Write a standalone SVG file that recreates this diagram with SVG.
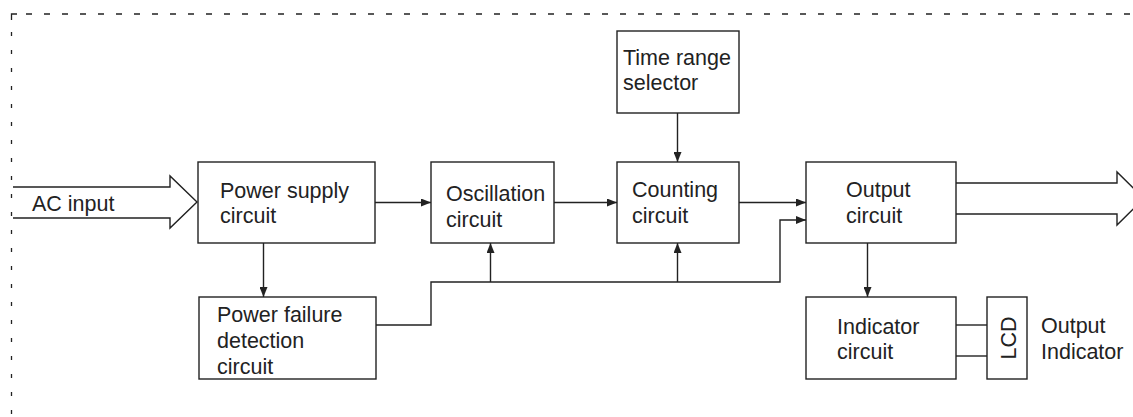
<svg xmlns="http://www.w3.org/2000/svg" width="1133" height="417" viewBox="0 0 1133 417">
<style>
  .box { fill: #ffffff; stroke: #222222; stroke-width: 1.4; }
  .wire { fill: none; stroke: #222222; stroke-width: 1.4; }
  .big { fill: #ffffff; stroke: #222222; stroke-width: 1.4; stroke-linejoin: miter; }
  .lbl { font-family: "Liberation Sans", Arial, sans-serif; font-size: 21.5px; fill: #222222; }
  .border { fill: none; stroke: #222222; stroke-width: 1.3; }
</style>
<defs>
  <marker id="ah" viewBox="0 0 10 8" refX="10" refY="4" markerWidth="10" markerHeight="8" markerUnits="userSpaceOnUse" orient="auto">
    <path d="M0,0 L10,4 L0,8 Z" fill="#222222"/>
  </marker>
</defs>
<rect width="1133" height="417" fill="#ffffff"/>
<g id="frame">
  <line class="border" x1="26" y1="14" x2="1133" y2="14" stroke-dasharray="6 12"/>
  <path class="border" d="M11.5,20 L11.5,14 L17,14"/>
  <line class="border" x1="11.5" y1="32" x2="11.5" y2="417" stroke-dasharray="4 14"/>
</g>
<g id="connectors">
  <path class="big" d="M13,187 L170,187 L170,176 L197,202 L170,228 L170,218 L13,218"/>
  <path class="big" d="M956,183 L1117,183 L1117,172 L1144,198.5 L1117,225 L1117,214 L956,214"/>
  <line class="wire" x1="263.5" y1="243" x2="263.5" y2="297" marker-end="url(#ah)"/>
  <line class="wire" x1="375" y1="202.5" x2="431" y2="202.5" marker-end="url(#ah)"/>
  <line class="wire" x1="554" y1="202.5" x2="617" y2="202.5" marker-end="url(#ah)"/>
  <line class="wire" x1="739" y1="202.5" x2="806" y2="202.5" marker-end="url(#ah)"/>
  <line class="wire" x1="677.5" y1="113" x2="677.5" y2="162" marker-end="url(#ah)"/>
  <path class="wire" d="M376,325 L431,325 L431,282 L780,282 L780,220 L806,220" marker-end="url(#ah)"/>
  <line class="wire" x1="490.5" y1="282" x2="490.5" y2="243" marker-end="url(#ah)"/>
  <line class="wire" x1="677.5" y1="282" x2="677.5" y2="243" marker-end="url(#ah)"/>
  <line class="wire" x1="867.5" y1="243" x2="867.5" y2="297" marker-end="url(#ah)"/>
  <line class="wire" x1="956" y1="325" x2="987" y2="325"/>
  <line class="wire" x1="956" y1="356" x2="987" y2="356"/>
</g>
<g id="ac-input">
  <text class="lbl" x="32" y="211">AC input</text>
</g>
<g id="power-supply">
  <rect class="box" x="198" y="162" width="177" height="81"/>
  <text class="lbl" x="220" y="198">Power supply</text>
  <text class="lbl" x="220" y="223">circuit</text>
</g>
<g id="power-failure">
  <rect class="box" x="199" y="297" width="177" height="82"/>
  <text class="lbl" x="217" y="322">Power failure</text>
  <text class="lbl" x="217" y="348">detection</text>
  <text class="lbl" x="217" y="374">circuit</text>
</g>
<g id="oscillation">
  <rect class="box" x="431" y="162" width="123" height="81"/>
  <text class="lbl" x="446" y="201">Oscillation</text>
  <text class="lbl" x="446" y="227">circuit</text>
</g>
<g id="time-range">
  <rect class="box" x="617" y="31" width="122" height="82"/>
  <text class="lbl" x="623" y="65">Time range</text>
  <text class="lbl" x="623" y="90">selector</text>
</g>
<g id="counting">
  <rect class="box" x="617" y="162" width="122" height="81"/>
  <text class="lbl" x="632" y="197">Counting</text>
  <text class="lbl" x="632" y="222.5">circuit</text>
</g>
<g id="output">
  <rect class="box" x="806" y="162" width="150" height="81"/>
  <text class="lbl" x="846" y="196.5">Output</text>
  <text class="lbl" x="846" y="222.5">circuit</text>
</g>
<g id="indicator">
  <rect class="box" x="806" y="297" width="150" height="82"/>
  <text class="lbl" x="837" y="334">Indicator</text>
  <text class="lbl" x="837" y="359">circuit</text>
</g>
<g id="lcd">
  <rect class="box" x="987" y="297" width="40" height="82"/>
  <text class="lbl" x="0" y="0" text-anchor="middle" transform="translate(1016,338) rotate(-90)">LCD</text>
</g>
<g id="output-indicator">
  <text class="lbl" x="1041" y="333">Output</text>
  <text class="lbl" x="1041" y="359">Indicator</text>
</g>
</svg>
